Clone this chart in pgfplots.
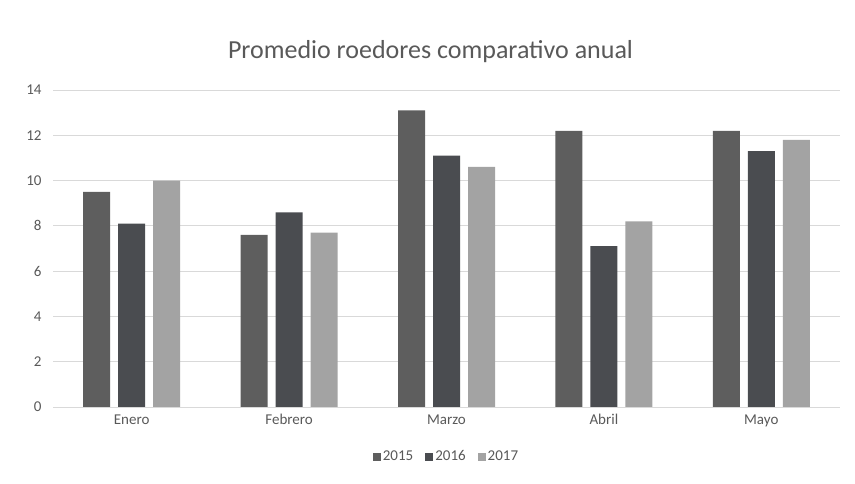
\documentclass[border=0pt]{standalone}
\usepackage{pgfplots}
\pgfplotsset{compat=1.18}
\usepackage{fontspec}
\setmainfont{Carlito}

\definecolor{cA}{HTML}{5E5E5E}
\definecolor{cB}{HTML}{4A4C50}
\definecolor{cC}{HTML}{A3A3A3}
\definecolor{txt}{HTML}{595959}
\definecolor{grd}{HTML}{D9D9D9}

\begin{document}
\begin{tikzpicture}[x=1pt,y=1pt]
\path (0,0) rectangle (855,484);
\begin{axis}[
    at={(53pt,77pt)}, anchor=south west,
    scale only axis,
    width=787pt, height=317pt,
    ybar=8pt, bar width=27pt,
    xmin=-0.5, xmax=4.5,
    ymin=0, ymax=14,
    ytick={0,2,...,14},
    xtick=data,
    xticklabels={Enero,Febrero,Marzo,Abril,Mayo},
    ymajorgrids, grid style={grd, line width=0.8pt},
    axis lines*=left,
    y axis line style={draw=none},
    x axis line style={grd, line width=0.8pt},
    major tick length=0pt,
    tick label style={font=\fontsize{15}{17}\selectfont, text=txt},
    /pgf/number format/assume math mode=true,
    yticklabel style={xshift=-8pt},
    xticklabel style={yshift=-4pt},
    title={Promedio roedores comparativo anual},
    title style={font=\fontsize{26}{30}\selectfont, text=txt, yshift=18pt, xshift=-16pt},
    legend style={at={(0.5,-0.125)}, anchor=north, draw=none,
        legend columns=3, font=\fontsize{15}{17}\selectfont, text=txt,
        /tikz/every even column/.append style={column sep=10pt}},
    legend image code/.code={\fill[#1] (2pt,-4pt) rectangle (10pt,4pt);},
]
\addplot[fill=cA, draw=none] coordinates {(0,9.5) (1,7.6) (2,13.1) (3,12.2) (4,12.2)};
\addplot[fill=cB, draw=none] coordinates {(0,8.1) (1,8.6) (2,11.1) (3,7.1) (4,11.3)};
\addplot[fill=cC, draw=none] coordinates {(0,10.0) (1,7.7) (2,10.6) (3,8.2) (4,11.8)};
\legend{2015,2016,2017}
\end{axis}
\end{tikzpicture}
\end{document}
